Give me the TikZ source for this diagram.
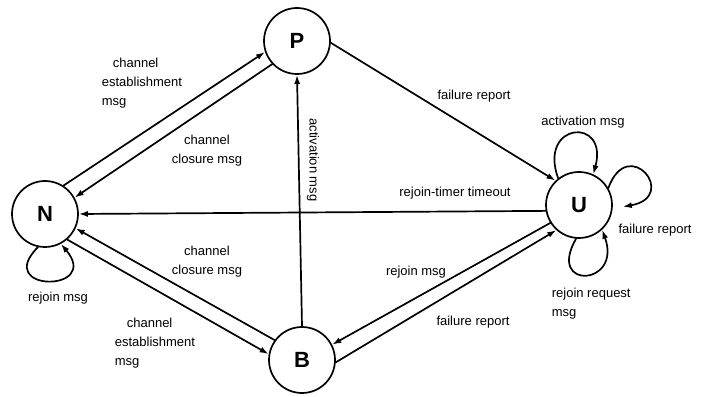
\documentclass[tikz,border=0pt]{standalone}
\usepackage{fontspec}
\setmainfont{Liberation Sans}
\usetikzlibrary{arrows.meta}
\begin{document}
\begin{tikzpicture}[x=1pt, y=1pt, line cap=round, line join=round, line width=1.7pt,
    state/.style={draw, circle, minimum size=66pt, inner sep=0pt, font=\fontsize{22}{22}\selectfont\bfseries},
    lbl/.style={font=\fontsize{13}{19}\selectfont, inner sep=1pt},
    >={Latex[length=9pt,width=6pt]}]
\useasboundingbox (0,0) rectangle (711,396);
\foreach \st/\x/\y in {N/45/182, P/297/355, B/302/36, U/579/191}
    \node[state] (\st) at (\x,\y) {\st};
\draw[->](N.57)--(P.199);
\draw[->](P.223)--(N.29);
\draw[->](B.144)--(N.-25);
\draw[->](N.-49)--(B.170);
\draw[->](B.north)--(P.south);
\draw[->](P.-3)--(U.134);
\draw[->](U.190)--(N.east);
\draw[->](U.212)--(B.27);
\draw[->](B.-4)--(U.228);
\draw[->](N.258)..controls +(225:64) and +(310:64)..(N.298);
\draw[->](U.128)..controls +(110:60) and +(75:60)..(U.65);
\draw[->](U.30)..controls +(70:58) and +(10:58)..([xshift=10pt]U.-3);
\draw[->](U.265)..controls +(240:60) and +(290:60)..(U.-47);
\node[lbl, anchor=west, align=left] (estabP) at (100,313) {\hspace*{11pt}channel\\establishment\\msg};
\node[lbl, align=center] (closP) at (207,245) {channel\\closure msg};
\node[lbl, align=center] (closB) at (207,134) {channel\\closure msg};
\node[lbl, anchor=west, align=left] (estabB) at (113,53) {\hspace*{12pt}channel\\establishment\\msg};
\node[lbl] (rejN) at (58,98) {rejoin msg};
\node[lbl, rotate=-90] (actP) at (313,236) {activation msg};
\node[lbl] (failPU) at (474,300) {failure report};
\node[lbl] (timeout) at (455,203) {rejoin-timer timeout};
\node[lbl] (actU) at (583,274) {activation msg};
\node[lbl] (failU) at (655,166) {failure report};
\node[lbl, anchor=west, align=left] (rejreq) at (550,92) {rejoin request\\msg};
\node[lbl] (rejB) at (416,124) {rejoin msg};
\node[lbl] (failBU) at (473,74) {failure report};
\end{tikzpicture}
\end{document}
